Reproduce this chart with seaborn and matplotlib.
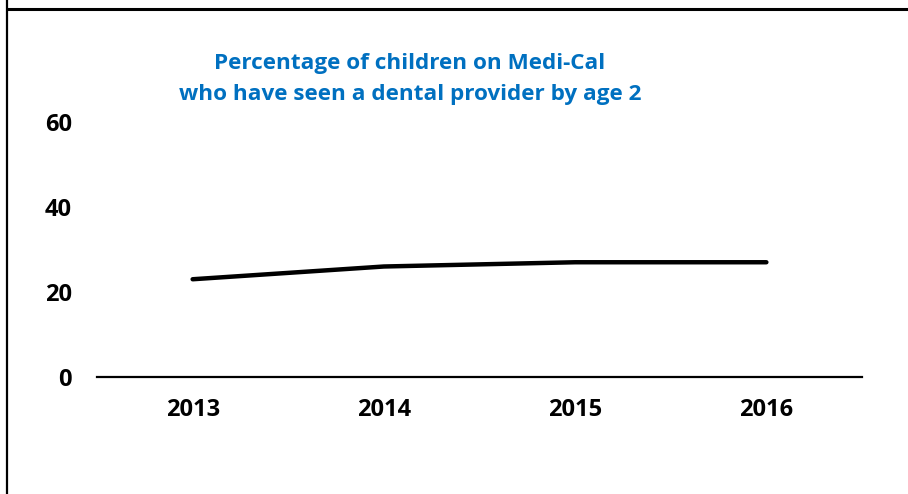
import matplotlib
matplotlib.use("Agg")
import matplotlib.pyplot as plt
import seaborn as sns
import pandas as pd
from matplotlib.lines import Line2D

years = ["2013", "2014", "2015", "2016"]
percent = [23, 26, 27, 27]
yticks = [0, 20, 40, 60]
title_text = "Percentage of children on Medi-Cal\nwho have seen a dental provider by age 2"

sns.set_theme(style="white")
plt.rcParams['font.family'] = ['Open Sans', 'DejaVu Sans']

df = pd.DataFrame({"year": years, "pct": percent})

fig = plt.figure(figsize=(9.08, 4.94), dpi=100)
ax = fig.add_axes([97/908, 1-377/494, (862-97)/908, (377-122)/494])
sns.lineplot(data=df, x="year", y="pct", ax=ax, color="black", linewidth=3.2,
             solid_capstyle="round")
ax.set_xlim(-0.5, 3.5)
ax.set_ylim(0, 60)
ax.set_yticks(yticks)
ax.set_yticklabels([str(t) for t in yticks], fontsize=17, fontweight="bold", color="black")
for lbl in ax.get_xticklabels():
    lbl.set_fontsize(17)
    lbl.set_fontweight("bold")
    lbl.set_color("black")
ax.tick_params(axis="y", length=0, pad=18)
ax.tick_params(axis="x", length=0, pad=15)
ax.set_xlabel("")
ax.set_ylabel("")
for s in ["top", "right", "left"]:
    ax.spines[s].set_visible(False)
ax.spines["bottom"].set_color("black")
ax.spines["bottom"].set_linewidth(1.6)
ax.patch.set_alpha(0)

fig.text(410/908, 1-79/494, title_text, ha="center", va="center", fontsize=16.2,
         fontweight="bold", color="#0070C0", linespacing=1.65)

# frame lines of the original slide/box
fig.add_artist(Line2D([7/908, 7/908], [0, 1], color="black", linewidth=1.6,
                      transform=fig.transFigure))
fig.add_artist(Line2D([7/908, 1], [1-9/494, 1-9/494], color="black", linewidth=2.2,
                      transform=fig.transFigure))

fig.savefig("out.png", dpi=100)
